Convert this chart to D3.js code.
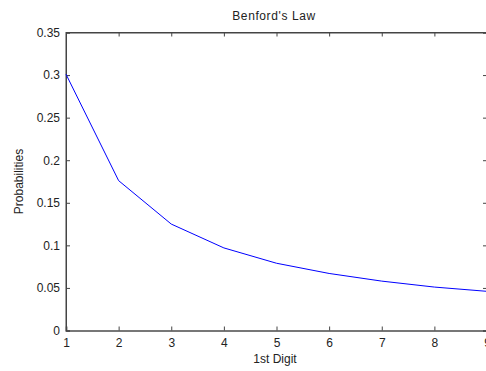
<!DOCTYPE html>
<html>
<head>
<meta charset="utf-8">
<script src="https://cdn.jsdelivr.net/npm/d3@7"></script>
<style>
  html, body { margin: 0; padding: 0; background: #fff; }
  svg { display: block; font-family: "Liberation Sans", Arial, sans-serif; }
</style>
</head>
<body>
<svg id="chart" width="486" height="371"></svg>
<script>
// First-digit probabilities
const digits = [1, 2, 3, 4, 5, 6, 7, 8, 9];
const probabilities = [0.301, 0.176, 0.125, 0.097, 0.079, 0.067, 0.058, 0.051, 0.046];
const xTicks = [1, 2, 3, 4, 5, 6, 7, 8, 9];
const yTicks = [0, 0.05, 0.1, 0.15, 0.2, 0.25, 0.3, 0.35];
const yTickLabels = ["0", "0.05", "0.1", "0.15", "0.2", "0.25", "0.3", "0.35"];

(function () {
  const svg = d3.select("#chart");
  const plotLeft = 66, plotRight = 487, plotTop = 32.5, plotBottom = 330.5;

  const x = d3.scaleLinear().domain([1, 9]).range([plotLeft, plotRight]);
  const y = d3.scaleLinear().domain([0, 0.35]).range([plotBottom, plotTop]);

  const axisColor = "#444";
  const tickLen = 4;

  // Frame
  svg.append("rect")
    .attr("x", plotLeft).attr("y", plotTop)
    .attr("width", plotRight - plotLeft).attr("height", plotBottom - plotTop)
    .attr("fill", "none").attr("stroke", axisColor).attr("stroke-width", 1);

  // Axes: ticks point inward, labels only on bottom and left
  const xAxis = svg.append("g").attr("transform", `translate(0,${plotBottom})`)
    .call(d3.axisBottom(x).tickValues(xTicks).tickSize(-tickLen).tickPadding(8)
          .tickFormat(d3.format("d")));
  const xAxisTop = svg.append("g").attr("transform", `translate(0,${plotTop})`)
    .call(d3.axisTop(x).tickValues(xTicks).tickSize(-tickLen).tickFormat(""));
  const yAxis = svg.append("g").attr("transform", `translate(${plotLeft},0)`)
    .call(d3.axisLeft(y).tickValues(yTicks).tickSize(-tickLen).tickPadding(6)
          .tickFormat((d, i) => yTickLabels[i]));
  const yAxisRight = svg.append("g").attr("transform", `translate(${plotRight},0)`)
    .call(d3.axisRight(y).tickValues(yTicks).tickSize(-tickLen).tickFormat(""));

  [xAxis, xAxisTop, yAxis, yAxisRight].forEach(g => {
    g.select(".domain").attr("stroke", axisColor);
    g.selectAll(".tick line").attr("stroke", axisColor);
    g.selectAll(".tick text")
      .attr("fill", "#222")
      .style("font-size", "12px")
      .style("font-family", "Liberation Sans, Arial, sans-serif");
  });
  xAxis.select(".domain").attr("stroke", "#777").attr("stroke-width", 2);

  // Data line
  const line = d3.line()
    .x((d, i) => x(digits[i]))
    .y(d => y(d));
  svg.append("path")
    .datum(probabilities)
    .attr("d", line)
    .attr("fill", "none")
    .attr("stroke", "#0000ff")
    .attr("stroke-width", 1);

  // Titles
  svg.append("text")
    .attr("x", 274).attr("y", 20)
    .attr("text-anchor", "middle")
    .attr("fill", "#222")
    .style("font-size", "12px")
    .style("letter-spacing", "0.6px")
    .text("Benford's Law");

  svg.append("text")
    .attr("x", 275).attr("y", 363)
    .attr("text-anchor", "middle")
    .attr("fill", "#222")
    .style("font-size", "12px")
    .text("1st Digit");

  svg.append("text")
    .attr("transform", `translate(22.5,${(plotTop + plotBottom) / 2}) rotate(-90)`)
    .attr("text-anchor", "middle")
    .attr("fill", "#222")
    .style("font-size", "12px")
    .text("Probabilities");
})();
</script>
</body>
</html>
